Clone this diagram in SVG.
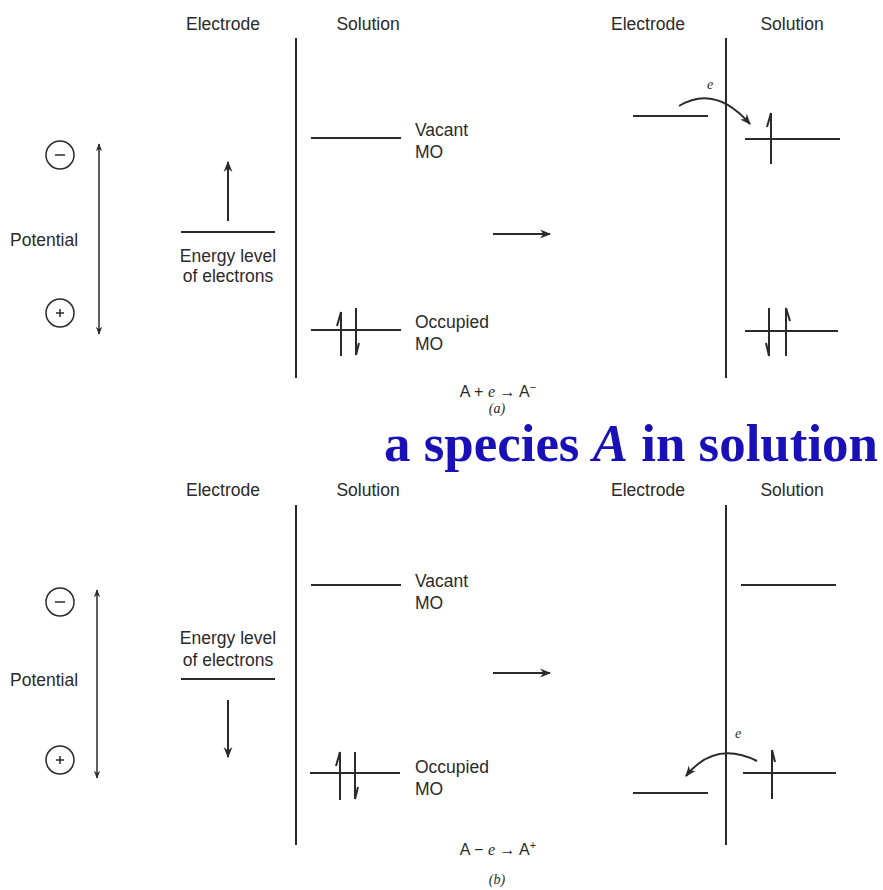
<svg xmlns="http://www.w3.org/2000/svg" width="883" height="890" viewBox="0 0 883 890">
<defs>
<style>
.t{font-family:"Liberation Sans",Arial,sans-serif;font-size:17.5px;fill:#2a2a2a}
.ti{font-family:"Liberation Serif","Times New Roman",serif;font-style:italic;font-size:14px;fill:#2a2a2a}
.eq{font-family:"Liberation Sans",Arial,sans-serif;font-size:16px;fill:#2a2a2a}
.ln{stroke:#2a2a2a;stroke-width:2;fill:none}
.th{stroke:#2a2a2a;stroke-width:1.5;fill:none}
.big{font-family:"Liberation Serif","Times New Roman",serif;font-weight:bold;font-size:52px;fill:#1a10b8}
</style>
<marker id="ah" viewBox="0 0 10 10" refX="9" refY="5" markerWidth="8" markerHeight="8" orient="auto-start-reverse" markerUnits="userSpaceOnUse">
<path d="M0,1 L10,5 L0,9 L3,5 Z" fill="#2a2a2a"/>
</marker>
<marker id="ah2" viewBox="0 0 10 10" refX="9" refY="5" markerWidth="11" markerHeight="11" orient="auto-start-reverse" markerUnits="userSpaceOnUse">
<path d="M0,1 L10,5 L0,9 L3,5 Z" fill="#2a2a2a"/>
</marker>
</defs>
<rect width="883" height="890" fill="#ffffff"/>

<!-- ===== Panel (a) ===== -->
<g id="a-headers">
<text class="t" x="223" y="30" text-anchor="middle">Electrode</text>
<text class="t" x="368" y="30" text-anchor="middle">Solution</text>
<text class="t" x="648" y="30" text-anchor="middle">Electrode</text>
<text class="t" x="792" y="30" text-anchor="middle">Solution</text>
</g>
<g id="a-potential">
<circle class="th" cx="60" cy="155" r="14"/>
<line class="th" x1="55" y1="155" x2="65" y2="155"/>
<circle class="th" cx="60" cy="313" r="14"/>
<line class="th" x1="56" y1="313" x2="64" y2="313"/>
<line class="th" x1="60" y1="309" x2="60" y2="317"/>
<text class="t" x="10" y="246">Potential</text>
</g>
<g id="a-interface-left">
<line class="ln" x1="296" y1="38" x2="296" y2="378"/>
</g>
<g id="a-electrode-level">
<line class="ln" x1="181" y1="232" x2="275" y2="232"/>
<text class="t" x="228" y="262" text-anchor="middle">Energy level</text>
<text class="t" x="228" y="282" text-anchor="middle">of electrons</text>
</g>
<g id="a-vacant">
<line class="ln" x1="311" y1="138" x2="401" y2="138"/>
<text class="t" x="415" y="136">Vacant</text>
<text class="t" x="415" y="158">MO</text>
</g>
<g id="a-occupied">
<line class="ln" x1="311" y1="330" x2="401" y2="330"/>
<path class="ln" d="M341,356 V312 L337,326"/>
<path class="ln" d="M356,308 V355 L359,343"/>
<text class="t" x="415" y="328">Occupied</text>
<text class="t" x="415" y="350">MO</text>
</g>
<g id="a-interface-right">
<line class="ln" x1="726" y1="38" x2="726" y2="378"/>
</g>
<g id="a-electrode-level-r">
<line class="ln" x1="633" y1="116" x2="708" y2="116"/>
</g>
<g id="a-vacant-r">
<line class="ln" x1="745" y1="139" x2="840" y2="139"/>
<path class="ln" d="M771,164 V113 L767,127"/>
</g>
<g id="a-occupied-r">
<line class="ln" x1="745" y1="331" x2="838" y2="331"/>
<path class="ln" d="M769,308 V356 L766,343"/>
<path class="ln" d="M786,356 V308 L790,321"/>
</g>
<g id="a-eq">
<text class="eq" x="498" y="397" text-anchor="middle">A + <tspan font-family="Liberation Serif" font-style="italic">e</tspan> → A<tspan dy="-6" font-size="11">−</tspan></text>
<text class="ti" x="497" y="413" text-anchor="middle" font-size="11">(a)</text>
</g>

<g id="title">
<text class="big" x="384" y="461" textLength="494" lengthAdjust="spacingAndGlyphs">a species <tspan font-style="italic">A</tspan> in solution</text>
</g>

<!-- ===== Panel (b) ===== -->
<g id="b-headers">
<text class="t" x="223" y="496" text-anchor="middle">Electrode</text>
<text class="t" x="368" y="496" text-anchor="middle">Solution</text>
<text class="t" x="648" y="496" text-anchor="middle">Electrode</text>
<text class="t" x="792" y="496" text-anchor="middle">Solution</text>
</g>
<g id="b-potential">
<circle class="th" cx="60" cy="602" r="14"/>
<line class="th" x1="55" y1="602" x2="65" y2="602"/>
<circle class="th" cx="60" cy="760" r="14"/>
<line class="th" x1="56" y1="760" x2="64" y2="760"/>
<line class="th" x1="60" y1="756" x2="60" y2="764"/>
<text class="t" x="10" y="686">Potential</text>
</g>
<g id="b-interface-left">
<line class="ln" x1="296" y1="505" x2="296" y2="845"/>
</g>
<g id="b-electrode-level">
<text class="t" x="228" y="644" text-anchor="middle">Energy level</text>
<text class="t" x="228" y="666" text-anchor="middle">of electrons</text>
<line class="ln" x1="181" y1="679" x2="275" y2="679"/>
</g>
<g id="b-vacant">
<line class="ln" x1="311" y1="585" x2="401" y2="585"/>
<text class="t" x="415" y="587">Vacant</text>
<text class="t" x="415" y="609">MO</text>
</g>
<g id="b-occupied">
<line class="ln" x1="310" y1="773" x2="400" y2="773"/>
<path class="ln" d="M340,800 V752 L336,766"/>
<path class="ln" d="M355,752 V799 L358,787"/>
<text class="t" x="415" y="773">Occupied</text>
<text class="t" x="415" y="795">MO</text>
</g>
<g id="b-interface-right">
<line class="ln" x1="726" y1="505" x2="726" y2="845"/>
</g>
<g id="b-vacant-r">
<line class="ln" x1="741" y1="585" x2="836" y2="585"/>
</g>
<g id="b-occupied-r">
<line class="ln" x1="743" y1="773" x2="836" y2="773"/>
<path class="ln" d="M772,799 V750 L775,762"/>
</g>
<g id="b-electrode-level-r">
<line class="ln" x1="633" y1="793" x2="708" y2="793"/>
</g>
<g id="b-eq">
<text class="eq" x="498" y="855" text-anchor="middle">A − <tspan font-family="Liberation Serif" font-style="italic">e</tspan> → A<tspan dy="-6" font-size="11">+</tspan></text>
<text class="ti" x="497" y="884" text-anchor="middle" font-size="13">(b)</text>
</g>

<!-- ===== Connectors ===== -->
<g id="connectors">
<line class="th" x1="99" y1="144" x2="99" y2="334" marker-start="url(#ah)" marker-end="url(#ah)"/>
<line class="ln" x1="228" y1="221" x2="228" y2="162" marker-end="url(#ah2)"/>
<line class="ln" x1="493" y1="234" x2="550" y2="234" marker-end="url(#ah2)"/>
<path class="ln" d="M679,106 Q715,84 750,124" marker-end="url(#ah2)"/>
<text class="ti" x="707" y="89">e</text>

<line class="th" x1="97" y1="590" x2="97" y2="778" marker-start="url(#ah)" marker-end="url(#ah)"/>
<line class="ln" x1="228" y1="700" x2="228" y2="757" marker-end="url(#ah2)"/>
<line class="ln" x1="493" y1="673" x2="550" y2="673" marker-end="url(#ah2)"/>
<path class="ln" d="M757,761 Q715,740 686,776" marker-end="url(#ah2)"/>
<text class="ti" x="735" y="738">e</text>
</g>
</svg>
